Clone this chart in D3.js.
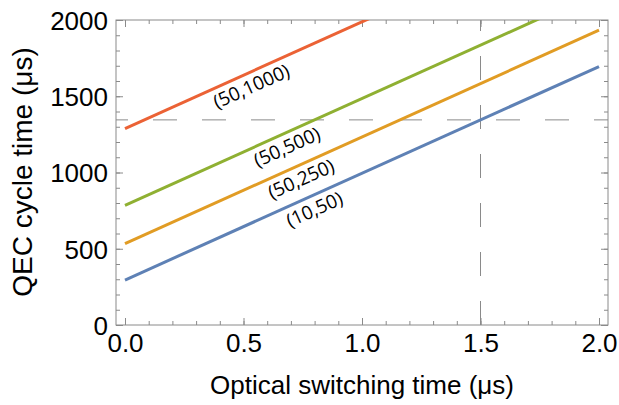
<!DOCTYPE html>
<html>
<head>
<meta charset="utf-8">
<script src="https://cdn.jsdelivr.net/npm/d3@7"></script>
<style>
  body { margin: 0; background: #fff; }
</style>
</head>
<body>
<div id="container"></div>
<script>
// Constants and globals
const width = 619,
  height = 405,
  frame = { left: 116, right: 608, top: 20, bottom: 325 }

// data: QEC cycle time at switching time 0 and 2 us (lines run off the top)
const switchTimes = [0, 2]
const seriesNames = ["(10,50)", "(50,250)", "(50,500)", "(50,1000)"]
const cycleTimes = [
  [295, 1695],
  [533, 1933],
  [785, 2185],
  [1288, 2688]
]
const colors = ["#5e81b5", "#e19c24", "#8fb032", "#eb6235"]
const labelAt = [0.776, 0.72, 0.66, 0.51] // x where each label sits
const markX = 1.5, markY = 1345 // dashed guide lines
const xTicks = [0, 0.5, 1, 1.5, 2]
const yTicks = [0, 500, 1000, 1500, 2000]
const xMinor = d3.range(0, 21).map(d => d / 10)
const yMinor = d3.range(0, 21).map(d => d * 100)

const sans = "Liberation Sans, Arial, sans-serif"

// scales
const xScale = d3.scaleLinear().domain([0, 2]).range([125, 599])
const yScale = d3.scaleLinear().domain([0, 2000]).range([frame.bottom, frame.top])

const svg = d3.select("#container")
  .append("svg")
  .attr("width", width)
  .attr("height", height)

svg.append("clipPath").attr("id", "plot")
  .append("rect")
  .attr("x", frame.left).attr("y", frame.top)
  .attr("width", frame.right - frame.left).attr("height", frame.bottom - frame.top)

const grey = "#8a8a8a"

// ticks inside the frame, on all four sides
function ticks(axis, tr, vals, size, fmt) {
  const g = svg.append("g").attr("transform", tr)
    .call(axis.tickValues(vals).tickSize(-size).tickFormat(fmt))
  g.select(".domain").remove()
  g.selectAll("line").attr("stroke", grey)
  return g
}
const none = () => ""
ticks(d3.axisBottom(xScale), `translate(0,${frame.bottom})`, xMinor, 4, none)
ticks(d3.axisTop(xScale), `translate(0,${frame.top})`, xMinor, 4, none)
ticks(d3.axisTop(xScale), `translate(0,${frame.top})`, xTicks, 7, none)
ticks(d3.axisLeft(yScale), `translate(${frame.left},0)`, yMinor, 4, none)
ticks(d3.axisRight(yScale), `translate(${frame.right},0)`, yMinor, 4, none)
ticks(d3.axisRight(yScale), `translate(${frame.right},0)`, yTicks, 7, none)

const xAx = ticks(d3.axisBottom(xScale), `translate(0,${frame.bottom})`, xTicks, 7, d3.format(".1f"))
xAx.attr("font-family", sans).attr("font-size", 26)
xAx.selectAll("text").attr("fill", "#000").attr("dy", "0.72em").attr("y", 8)

const yAx = ticks(d3.axisLeft(yScale), `translate(${frame.left},0)`, yTicks, 7, d3.format("d"))
yAx.attr("font-family", sans).attr("font-size", 26)
yAx.selectAll("text").attr("fill", "#000").attr("x", -8).attr("dy", "0.36em")

// frame
svg.append("rect")
  .attr("x", frame.left).attr("y", frame.top)
  .attr("width", frame.right - frame.left).attr("height", frame.bottom - frame.top)
  .attr("fill", "none").attr("stroke", grey).attr("stroke-width", 1)

// dashed guides
svg.append("line")
  .attr("x1", frame.left).attr("x2", frame.right)
  .attr("y1", yScale(markY)).attr("y2", yScale(markY))
  .attr("stroke", grey).attr("stroke-dasharray", "24,25").attr("stroke-dashoffset", 12)
svg.append("line")
  .attr("x1", xScale(markX)).attr("x2", xScale(markX))
  .attr("y1", frame.bottom).attr("y2", frame.top)
  .attr("stroke", grey).attr("stroke-dasharray", "24,25").attr("stroke-dashoffset", 0)

// lines
const line = d3.line().x((d, i) => xScale(switchTimes[i])).y(d => yScale(d))
svg.append("g").attr("clip-path", "url(#plot)")
  .selectAll("path")
  .data(cycleTimes)
  .join("path")
  .attr("d", d => line(d))
  .attr("fill", "none")
  .attr("stroke", (d, i) => colors[i])
  .attr("stroke-width", 3)

// labels along the lines
svg.append("g").selectAll("text")
  .data(seriesNames)
  .join("text")
  .attr("transform", (d, i) => {
    const v = cycleTimes[i]
    const t = labelAt[i]
    const yv = v[0] + (v[1] - v[0]) * (t - switchTimes[0]) / (switchTimes[1] - switchTimes[0])
    const ang = Math.atan2(yScale(v[1]) - yScale(v[0]), xScale(switchTimes[1]) - xScale(switchTimes[0])) * 180 / Math.PI
    return `translate(${xScale(t)},${yScale(yv)}) rotate(${ang})`
  })
  .attr("text-anchor", "middle")
  .attr("dy", 20)
  .attr("font-family", "Open Sans, sans-serif")
  .attr("font-size", 19)
  .text(d => d)

// axis titles
svg.append("text")
  .attr("x", 362).attr("y", 394)
  .attr("text-anchor", "middle")
  .attr("font-family", sans)
  .attr("font-size", 26)
  .text("Optical switching time (\u03bcs)")

svg.append("text")
  .attr("transform", `translate(32,172) rotate(-90)`)
  .attr("text-anchor", "middle")
  .attr("font-family", sans)
  .attr("font-size", 28)
  .text("QEC cycle time (\u03bcs)")
</script>
</body>
</html>
